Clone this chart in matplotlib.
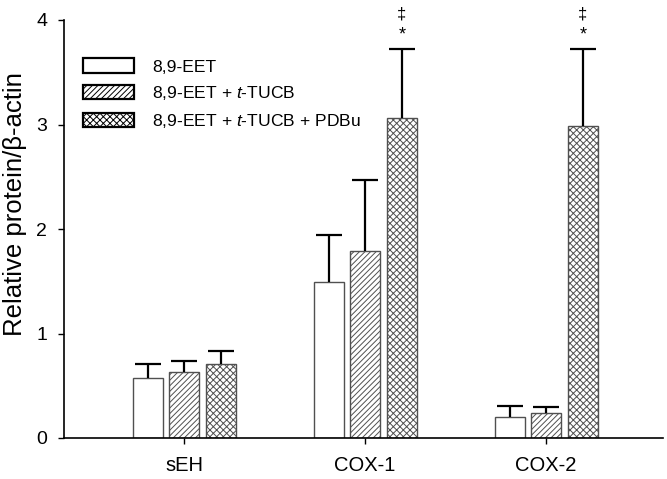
import numpy as np
import matplotlib
matplotlib.use("Agg")
import matplotlib.pyplot as plt

plt.rcParams['font.family'] = ['Liberation Sans', 'DejaVu Sans']
plt.rcParams['mathtext.fontset'] = 'custom'
plt.rcParams['mathtext.it'] = 'Liberation Sans:italic'
plt.rcParams['mathtext.rm'] = 'Liberation Sans'
plt.rcParams['hatch.linewidth'] = 0.7
plt.rcParams['hatch.color'] = '#303030'

categories = ['sEH', 'COX-1', 'COX-2']
series_labels = ['8,9-EET', '8,9-EET + $\\it{t}$-TUCB', '8,9-EET + $\\it{t}$-TUCB + PDBu']
eet = [0.57, 1.49, 0.20]
eet_err = [0.14, 0.45, 0.11]
eet_tucb = [0.63, 1.79, 0.24]
eet_tucb_err = [0.11, 0.68, 0.06]
eet_tucb_pdbu = [0.71, 3.06, 2.99]
eet_tucb_pdbu_err = [0.12, 0.66, 0.73]
annot_star = ['', '*', '*']
annot_dagger = ['', '\u2021', '\u2021']
yticks = [0, 1, 2, 3, 4]

fig = plt.figure(figsize=(6.67, 4.79), dpi=100)
ax = fig.add_axes([64/667, 1-438/479, 599/667, 418/479])

x = np.arange(len(categories))
width = 0.166
offs = [-0.2, 0.0, 0.203]
hatches = [None, '//////', 'xxxxx']
vals = [eet, eet_tucb, eet_tucb_pdbu]
errs = [eet_err, eet_tucb_err, eet_tucb_pdbu_err]

for i in range(3):
    ax.bar(x + offs[i], vals[i], width, color='white', edgecolor='#505050',
           hatch=hatches[i], linewidth=1.0, label=series_labels[i], zorder=2)
    eb = ax.errorbar(x + offs[i], vals[i], yerr=[np.zeros(3), errs[i]], fmt='none',
                     ecolor='black', elinewidth=1.6, capsize=9.5, capthick=1.6, zorder=3)
    eb[1][0].set_visible(False)

for j in range(3):
    if annot_star[j]:
        ax.text(x[j] + offs[2], 3.86, annot_star[j], ha='center', va='center', fontsize=13)
        ax.text(x[j] + offs[2], 4.06, annot_dagger[j], ha='center', va='center', fontsize=12,
                clip_on=False)

ax.set_xlim(-0.663, 2.646)
ax.set_ylim(0, 4)
ax.set_yticks(yticks)
ax.set_xticks(x)
ax.set_xticklabels(categories, fontsize=14.5)
ax.tick_params(axis='y', labelsize=14, length=4, width=1, pad=8)
ax.tick_params(axis='x', length=4, width=1, pad=9)
ax.spines['top'].set_visible(False)
ax.spines['right'].set_visible(False)
ax.spines['left'].set_linewidth(1.2)
ax.spines['bottom'].set_linewidth(1.2)
ax.set_ylabel('Relative protein/\u03b2-actin', fontsize=18.5, va='center')
ax.yaxis.set_label_coords(-0.082, 0.56)

leg = ax.legend(loc='upper left', bbox_to_anchor=(0.032, 0.908), frameon=False, fontsize=12.6,
                handlelength=2.9, handleheight=0.86, handletextpad=1.05, labelspacing=0.55,
                borderpad=0, borderaxespad=0)
for h in leg.legend_handles:
    h.set_edgecolor('black')
    h.set_linewidth(1.6)

fig.savefig('out.png', dpi=100)
